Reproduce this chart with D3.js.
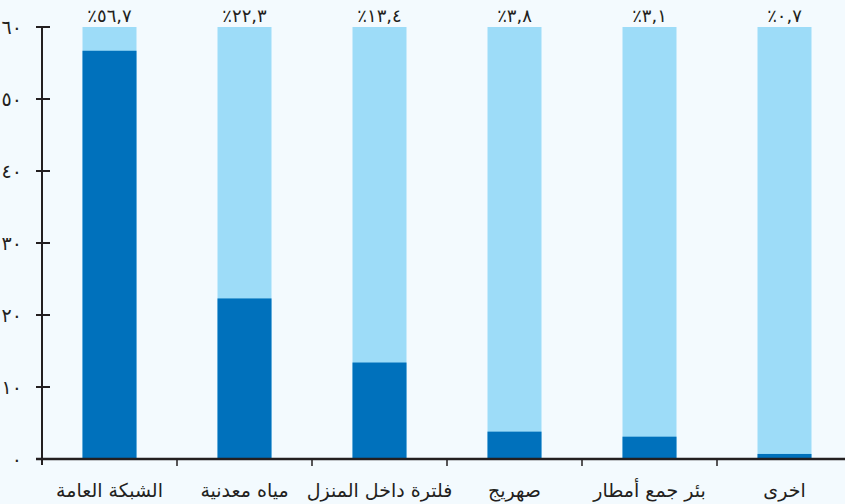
<!DOCTYPE html>
<html><head><meta charset="utf-8">
<script src="https://cdn.jsdelivr.net/npm/d3@7"></script>
<style>
html,body{margin:0;padding:0;background:#f3fafe;}
svg{display:block;font-family:"DejaVu Sans","Noto Sans",sans-serif;}
</style></head>
<body><svg id="c" width="845" height="504"></svg>
<script>
const categories = ["الشبكة العامة","مياه معدنية","فلترة داخل المنزل","صهريج","بئر جمع أمطار","اخرى"];
const values = [56.7, 22.3, 13.4, 3.8, 3.1, 0.7];
const valueLabels = ["٪٥٦,٧","٪٢٢,٣","٪١٣,٤","٪٣,٨","٪٣,١","٪٠,٧"];
const yTicks = [0,10,20,30,40,50,60];
const yTickLabels = ["٠","١٠","٢٠","٣٠","٤٠","٥٠","٦٠"];
const yMax = 60;

const svg = d3.select("#c");
const x0 = 42, x1 = 852, yTop = 27, yBot = 459;
const x = d3.scaleBand().domain(categories).range([x0, x1]).paddingInner(0.6).paddingOuter(0.3);
const y = d3.scaleLinear().domain([0, yMax]).range([yBot, yTop]);

svg.append("rect").attr("width",845).attr("height",504).attr("fill","#f3fafe");

// background bars
svg.selectAll(".bg").data(categories).join("rect")
  .attr("x", d => x(d)).attr("width", x.bandwidth())
  .attr("y", y(yMax)).attr("height", y(0) - y(yMax))
  .attr("fill", "#9ddcf8");
// value bars
svg.selectAll(".v").data(values).join("rect")
  .attr("x", (d,i) => x(categories[i])).attr("width", x.bandwidth())
  .attr("y", d => y(d)).attr("height", d => y(0) - y(d))
  .attr("fill", "#0071bc");

// value labels
svg.selectAll(".vl").data(valueLabels).join("text")
  .attr("x", (d,i) => x(categories[i]) + x.bandwidth()/2)
  .attr("y", 22)
  .attr("text-anchor","middle")
  .attr("direction","ltr").attr("unicode-bidi","bidi-override")
  .attr("font-size", 18).attr("fill","#231f20")
  .text(d => d);

// y axis
const yAxis = d3.axisLeft(y).tickValues(yTicks).tickSize(0).tickFormat((d,i) => yTickLabels[i]);
const ga = svg.append("g").attr("transform",`translate(${x0},0)`).call(yAxis);
ga.select(".domain").remove();
ga.selectAll("text").attr("x",-20).attr("font-size",19).attr("fill","#231f20")
  .attr("font-family","DejaVu Sans, sans-serif");
svg.append("line").attr("x1",x0).attr("x2",x0).attr("y1",y(yMax)-1).attr("y2",y(0)+6)
  .attr("stroke","#231f20").attr("stroke-width",2);
svg.selectAll(".yt").data(yTicks.filter(d=>d>0)).join("line")
  .attr("x1",x0-6).attr("x2",x0+8).attr("y1",d=>y(d)).attr("y2",d=>y(d))
  .attr("stroke","#231f20").attr("stroke-width",2);

// x axis
svg.append("line").attr("x1",x0-6).attr("x2",845).attr("y1",y(0)).attr("y2",y(0))
  .attr("stroke","#231f20").attr("stroke-width",2.5);
const step = x.step();
svg.selectAll(".xt").data(d3.range(1,categories.length)).join("line")
  .attr("x1",d => x0 + step*d).attr("x2",d => x0 + step*d)
  .attr("y1",y(0)).attr("y2",y(0)+7)
  .attr("stroke","#231f20").attr("stroke-width",1.5);

svg.selectAll(".cl").data(categories).join("text")
  .attr("x", d => x(d) + x.bandwidth()/2)
  .attr("y", 497)
  .attr("text-anchor","middle")
  .attr("font-size", 19).attr("fill","#231f20")
  .text(d => d);
</script></body></html>
